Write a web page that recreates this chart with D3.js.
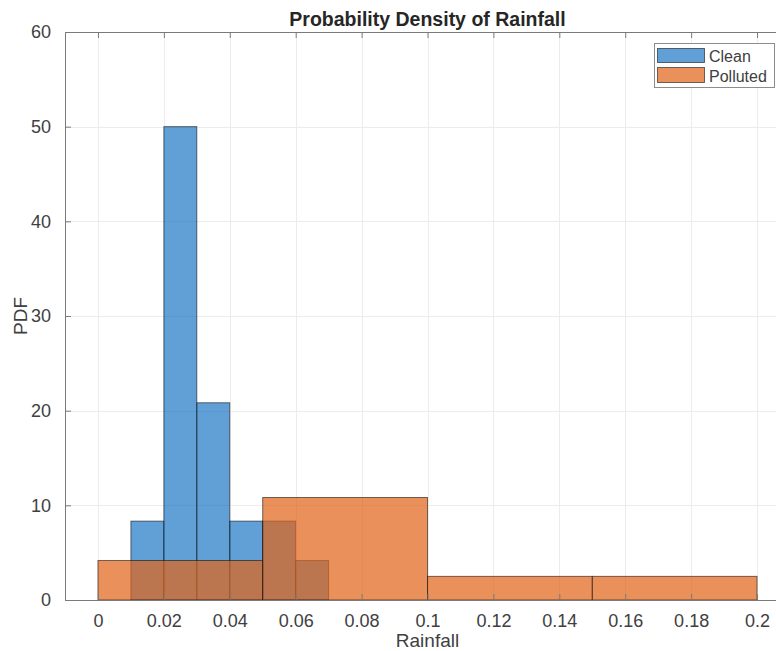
<!DOCTYPE html>
<html>
<head>
<meta charset="utf-8">
<script src="https://cdn.jsdelivr.net/npm/d3@7"></script>
<style>
  html, body { margin: 0; padding: 0; background: #ffffff; }
  svg { display: block; font-family: "Liberation Sans", Arial, Helvetica, sans-serif; }
</style>
</head>
<body>
<script>
// Histogram bin edges and normalised densities (PDF) for each series
const cleanEdges = [0.01, 0.02, 0.03, 0.04, 0.05, 0.06, 0.07];
const cleanPdf = [8.333, 50, 20.833, 8.333, 8.333, 4.167];
const pollutedEdges = [0, 0.05, 0.1, 0.15, 0.2];
const pollutedPdf = [4.167, 10.833, 2.5, 2.5];

const seriesNames = ["Clean", "Polluted"];
const xTicks = [0, 0.02, 0.04, 0.06, 0.08, 0.1, 0.12, 0.14, 0.16, 0.18, 0.2];
const xTickLabels = ["0", "0.02", "0.04", "0.06", "0.08", "0.1", "0.12", "0.14", "0.16", "0.18", "0.2"];
const yTicks = [0, 10, 20, 30, 40, 50, 60];

const W = 776, H = 651;
const plot = { left: 65, right: 790, top: 32, bottom: 600 };

const colors = {
  Clean: "rgb(0,102,190)",
  Polluted: "rgb(225,98,22)"
};
const faceOpacity = { Clean: 0.62, Polluted: 0.7 };

const svg = d3.select("body").append("svg")
  .attr("width", W)
  .attr("height", H);

const x = d3.scaleLinear().domain([-0.01, 0.21]).range([plot.left, plot.right]);
const y = d3.scaleLinear().domain([0, 60]).range([plot.bottom, plot.top]);

// grid
const grid = svg.append("g").attr("stroke", "#ececec").attr("stroke-width", 1);
grid.selectAll("line.gx").data(xTicks).join("line")
  .attr("x1", d => Math.round(x(d)) + 0.5).attr("x2", d => Math.round(x(d)) + 0.5)
  .attr("y1", plot.top).attr("y2", plot.bottom);
grid.selectAll("line.gy").data(yTicks).join("line")
  .attr("y1", d => Math.round(y(d)) + 0.5).attr("y2", d => Math.round(y(d)) + 0.5)
  .attr("x1", plot.left).attr("x2", plot.right);

// histogram bars built from bin edges
function bins(edges, values) {
  return values.map((v, i) => ({ x0: edges[i], x1: edges[i + 1], v }));
}

function drawHist(name, edges, values) {
  svg.append("g")
    .selectAll("rect")
    .data(bins(edges, values))
    .join("rect")
    .attr("x", d => x(d.x0))
    .attr("width", d => x(d.x1) - x(d.x0))
    .attr("y", d => y(d.v))
    .attr("height", d => y(0) - y(d.v))
    .attr("fill", colors[name])
    .attr("fill-opacity", faceOpacity[name])
    .attr("stroke", "#111")
    .attr("stroke-opacity", 0.65)
    .attr("stroke-width", 0.9);
}

drawHist("Clean", cleanEdges, cleanPdf);
drawHist("Polluted", pollutedEdges, pollutedPdf);

// axes: bottom and left with labels, plus box and inward ticks
const axisColor = "#7a7a7a";
const tickLen = 6;

const xAxis = d3.axisBottom(x)
  .tickValues(xTicks)
  .tickFormat((d, i) => xTickLabels[i])
  .tickSizeInner(-tickLen)
  .tickSizeOuter(0)
  .tickPadding(14);
const gx = svg.append("g").attr("transform", `translate(0,${plot.bottom})`).call(xAxis);
gx.select(".domain").attr("stroke", axisColor);
gx.selectAll(".tick line").attr("stroke", axisColor);
gx.selectAll(".tick text")
  .attr("fill", "#404040")
  .attr("font-size", 18)
  .attr("font-family", "Liberation Sans, Arial, sans-serif");

const yAxis = d3.axisLeft(y)
  .tickValues(yTicks)
  .tickSizeInner(-tickLen)
  .tickSizeOuter(0)
  .tickPadding(14);
const gy = svg.append("g").attr("transform", `translate(${plot.left},0)`).call(yAxis);
gy.select(".domain").attr("stroke", axisColor);
gy.selectAll(".tick line").attr("stroke", axisColor);
gy.selectAll(".tick text")
  .attr("fill", "#404040")
  .attr("font-size", 18)
  .attr("font-family", "Liberation Sans, Arial, sans-serif");

// top edge of the box with its inward ticks
const xTop = d3.axisTop(x)
  .tickValues(xTicks)
  .tickFormat("")
  .tickSizeInner(-tickLen)
  .tickSizeOuter(0);
const gt = svg.append("g").attr("transform", `translate(0,${plot.top})`).call(xTop);
gt.select(".domain").attr("stroke", axisColor);
gt.selectAll(".tick line").attr("stroke", axisColor);

// right edge of the box
const yRight = d3.axisRight(y)
  .tickValues(yTicks)
  .tickFormat("")
  .tickSizeInner(-tickLen)
  .tickSizeOuter(0);
const gr = svg.append("g").attr("transform", `translate(${plot.right},0)`).call(yRight);
gr.select(".domain").attr("stroke", axisColor);
gr.selectAll(".tick line").attr("stroke", axisColor);

// title and axis labels
const cx = (plot.left + plot.right) / 2;
svg.append("text")
  .attr("x", cx).attr("y", 26)
  .attr("text-anchor", "middle")
  .attr("font-size", 19.5)
  .attr("font-weight", "bold")
  .attr("fill", "#262626")
  .text("Probability Density of Rainfall");

svg.append("text")
  .attr("x", cx).attr("y", 647)
  .attr("text-anchor", "middle")
  .attr("font-size", 19)
  .attr("fill", "#404040")
  .text("Rainfall");

svg.append("text")
  .attr("transform", `translate(27,${(plot.top + plot.bottom) / 2}) rotate(-90)`)
  .attr("text-anchor", "middle")
  .attr("font-size", 19)
  .attr("fill", "#404040")
  .text("PDF");

// legend
const legend = svg.append("g");
legend.append("rect")
  .attr("x", 654.5).attr("y", 43.5)
  .attr("width", 120).attr("height", 44)
  .attr("fill", "#ffffff")
  .attr("stroke", "#8c8c8c")
  .attr("stroke-width", 1);

const legendRows = [
  { name: seriesNames[0], y0: 48, y1: 62, baseline: 62 },
  { name: seriesNames[1], y0: 67, y1: 82, baseline: 82 }
];
legendRows.forEach(r => {
  legend.append("rect")
    .attr("x", 657.5).attr("y", r.y0 + 0.5)
    .attr("width", 47).attr("height", r.y1 - r.y0)
    .attr("fill", colors[r.name])
    .attr("fill-opacity", faceOpacity[r.name])
    .attr("stroke", "#111")
    .attr("stroke-opacity", 0.65)
    .attr("stroke-width", 0.9);
  legend.append("text")
    .attr("x", 709).attr("y", r.baseline)
    .attr("font-size", 16)
    .attr("fill", "#404040")
    .text(r.name);
});
</script>
</body>
</html>
